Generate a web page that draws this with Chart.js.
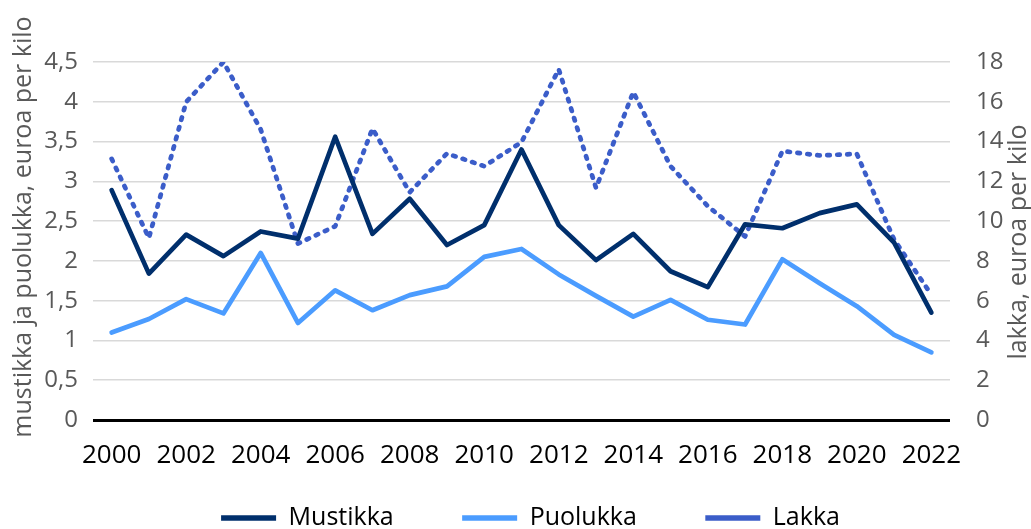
<!DOCTYPE html>
<html>
<head>
<meta charset="utf-8">
<script src="https://cdn.jsdelivr.net/npm/chart.js@4/dist/chart.umd.min.js"></script>
<style>
  html, body { margin: 0; padding: 0; background: #fff; }
  #wrap { width: 1031px; height: 529px; position: relative; }
</style>
</head>
<body>
<div id="wrap"><canvas id="priceChart"></canvas></div>
<script>
const years = ["2000", "2001", "2002", "2003", "2004", "2005", "2006", "2007", "2008", "2009", "2010", "2011",
  "2012", "2013", "2014", "2015", "2016", "2017", "2018", "2019", "2020", "2021", "2022"];

const mustikka = [2.89, 1.84, 2.33, 2.06, 2.37, 2.28, 3.56, 2.34, 2.78, 2.20, 2.45, 3.40,
  2.45, 2.01, 2.34, 1.87, 1.67, 2.46, 2.41, 2.60, 2.71, 2.23, 1.35];
const puolukka = [1.10, 1.27, 1.52, 1.34, 2.10, 1.22, 1.63, 1.38, 1.57, 1.68, 2.05, 2.15,
  1.83, 1.56, 1.30, 1.51, 1.26, 1.20, 2.02, 1.72, 1.43, 1.07, 0.85];
const lakka = [13.13, 9.15, 15.99, 18.0, 14.61, 8.87, 9.74, 14.65, 11.45, 13.40, 12.76, 13.97,
  17.63, 11.67, 16.49, 12.76, 10.75, 9.23, 13.52, 13.30, 13.38, 9.07, 6.30];

const leftTitle = "mustikka ja puolukka, euroa per kilo";
const rightTitle = "lakka, euroa per kilo";

// rotated axis titles, both read bottom-to-top like in the original
const axisTitles = {
  id: "axisTitles",
  afterDraw(chart) {
    const { ctx, chartArea, scales } = chart;
    const midY = (chartArea.top + chartArea.bottom) / 2;
    ctx.save();
    ctx.fillStyle = "#595959";
    ctx.font = '25px "Open Sans"';
    ctx.textAlign = "center";
    ctx.textBaseline = "middle";

    ctx.save();
    ctx.translate(chartArea.left - 69, midY - 14);
    ctx.rotate(-Math.PI / 2);
    ctx.fillText(leftTitle, 0, 0);
    ctx.restore();

    ctx.save();
    ctx.translate(scales.y1.right - 12, midY + 1);
    ctx.rotate(-Math.PI / 2);
    ctx.fillText(rightTitle, 0, 0);
    ctx.restore();

    ctx.restore();
  }
};

const ctx = document.getElementById("priceChart").getContext("2d");

new Chart(ctx, {
  type: "line",
  data: {
    labels: years,
    datasets: [
      {
        label: "Mustikka",
        data: mustikka,
        yAxisID: "y",
        borderColor: "#002f6c",
        backgroundColor: "#002f6c",
        borderWidth: 4.7,
        borderCapStyle: "round",
        borderJoinStyle: "round",
        pointRadius: 0,
        tension: 0
      },
      {
        label: "Puolukka",
        data: puolukka,
        yAxisID: "y",
        borderColor: "#4b9cff",
        backgroundColor: "#4b9cff",
        borderWidth: 4.7,
        borderCapStyle: "round",
        borderJoinStyle: "round",
        pointRadius: 0,
        tension: 0
      },
      {
        label: "Lakka",
        data: lakka,
        yAxisID: "y1",
        borderColor: "#3b5dc9",
        backgroundColor: "#3b5dc9",
        borderWidth: 4.7,
        borderDash: [2.5, 7.5],
        borderCapStyle: "round",
        borderJoinStyle: "round",
        pointRadius: 0,
        tension: 0
      }
    ]
  },
  options: {
    responsive: true,
    maintainAspectRatio: false,
    animation: false,
    layout: {
      padding: { top: 62, left: 30, right: 0, bottom: -11.5 }
    },
    plugins: {
      tooltip: { enabled: false },
      legend: {
        position: "bottom",
        labels: {
          usePointStyle: true,
          pointStyle: "line",
          pointStyleWidth: 55,
          padding: 10,
          color: "#000",
          font: { family: '"Open Sans"', size: 25 },
          generateLabels(chart) {
            const items = Chart.defaults.plugins.legend.labels.generateLabels(chart);
            items.forEach((item, i) => {
              item.lineWidth = 5.5;
              if (i < items.length - 1) item.text = item.text + "         ";
            });
            return items;
          }
        }
      }
    },
    scales: {
      x: {
        type: "category",
        offset: true,
        grid: { display: false },
        border: { display: false },
        afterFit(scale) { scale.height = 75.5; },
        ticks: {
          autoSkip: false,
          maxRotation: 0,
          padding: 12,
          color: "#000",
          font: { family: '"Open Sans"', size: 26 },
          callback(value, index) {
            return index % 2 === 0 ? this.getLabelForValue(value) : "";
          }
        }
      },
      y: {
        position: "left",
        min: 0,
        max: 4.5,
        border: { display: false },
        afterFit(scale) { scale.width = 63; },
        grid: {
          drawTicks: false,
          color: (c) => (c.tick && c.tick.value === 0 ? "#000" : "#d9d9d9"),
          lineWidth: (c) => (c.tick && c.tick.value === 0 ? 3 : 1.5)
        },
        ticks: {
          stepSize: 0.5,
          padding: 15,
          color: "#595959",
          font: { family: '"Open Sans"', size: 24 },
          callback: (v) => String(v).replace(".", ",")
        }
      },
      y1: {
        position: "right",
        min: 0,
        max: 18,
        border: { display: false },
        afterFit(scale) { scale.width = 81; },
        grid: { display: false, drawOnChartArea: false },
        ticks: {
          stepSize: 2,
          padding: 18,
          color: "#595959",
          font: { family: '"Open Sans"', size: 24 }
        }
      }
    }
  },
  plugins: [axisTitles]
});
</script>
</body>
</html>
